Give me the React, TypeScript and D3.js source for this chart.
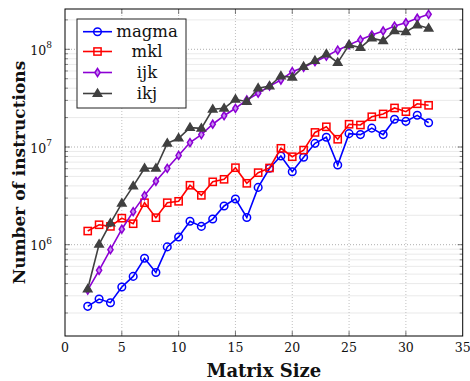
import React from "react";
import * as d3 from "d3";

const sizes = [2,3,4,5,6,7,8,9,10,11,12,13,14,15,16,17,18,19,20,21,22,23,24,25,26,27,28,29,30,31,32];
const magma = [2.34e5,2.78e5,2.55e5,3.69e5,4.74e5,7.26e5,5.2e5,9.5e5,1.2e6,1.74e6,1.54e6,1.83e6,2.49e6,2.94e6,1.9e6,3.86e6,6.05e6,8.1e6,5.58e6,7.85e6,1.09e7,1.26e7,6.55e6,1.37e7,1.34e7,1.56e7,1.34e7,1.92e7,1.83e7,2.11e7,1.77e7];
const mkl = [1.38e6,1.6e6,1.54e6,1.87e6,1.64e6,2.69e6,1.89e6,2.69e6,2.78e6,4.06e6,3.2e6,4.4e6,4.67e6,6.14e6,4.25e6,5.46e6,6.1e6,9.7e6,7.95e6,9.3e6,1.41e7,1.61e7,1.2e7,1.71e7,1.68e7,2.04e7,2.18e7,2.51e7,2.3e7,2.77e7,2.67e7];
const ijk = [3.43e5,5.47e5,8.9e5,1.44e6,2.18e6,3.18e6,4.46e6,6.05e6,8.2e6,1.11e7,1.34e7,1.71e7,2.09e7,2.49e7,3.03e7,3.55e7,4.2e7,4.85e7,5.9e7,6.55e7,7.47e7,8.5e7,9.8e7,1.11e8,1.25e8,1.4e8,1.54e8,1.73e8,1.87e8,2.08e8,2.28e8];
const ikj = [3.52e5,1.01e6,1.66e6,2.65e6,3.98e6,6.05e6,6.05e6,1.09e7,1.23e7,1.58e7,1.55e7,2.43e7,2.49e7,3.08e7,2.91e7,4.0e7,4.2e7,5.33e7,5.17e7,6.64e7,7.64e7,8.95e7,7.3e7,1.11e8,1.04e8,1.3e8,1.22e8,1.54e8,1.51e8,1.77e8,1.64e8];
const seriesNames = ["magma", "mkl", "ijk", "ikj"];
const xTicks = [0,5,10,15,20,25,30,35];
const yTickExps = [6,7,8];
const xLabel = "Matrix Size";
const yLabel = "Number of instructions";

const W = 470, H = 381;
const L = 65, R = 462.7, T = 9, B = 336;
const FONT = "'DejaVu Serif', serif";

const colors = ["#0000ff", "#ff0000", "#8c00d4", "#404040"];
const fills = ["none", "none", "#c68cf0", "#404040"];
const shapes = ["circle", "square", "diamond", "triangle"];

function Marker({ shape, x, y, color, fill }: any) {
  const sw = 1.5;
  if (shape === "circle") return <circle cx={x} cy={y} r={3.8} fill={fill} stroke={color} strokeWidth={sw} />;
  if (shape === "square") return <rect x={x - 3.6} y={y - 3.6} width={7.2} height={7.2} fill={fill} stroke={color} strokeWidth={sw} />;
  if (shape === "diamond") {
    const s = 4;
    return <path d={`M${x},${y - s}L${x + s * 0.65},${y}L${x},${y + s}L${x - s * 0.65},${y}Z`} fill={fill} stroke={color} strokeWidth={sw} />;
  }
  const s = 4.4;
  return <path d={`M${x},${y - s}L${x + s * 0.95},${y + s * 0.6}L${x - s * 0.95},${y + s * 0.6}Z`} fill={fill} stroke={color} strokeWidth={sw} strokeLinejoin="miter" />;
}

export default function App() {
  const x = d3.scaleLinear().domain([0, 35]).range([L, R]);
  const y = d3.scaleLog().domain([Math.pow(10, 5.0655), Math.pow(10, 8.4125)]).range([B, T]);
  const data = [magma, mkl, ijk, ikj];
  const line = d3.line<[number, number]>().x(d => x(d[0])).y(d => y(d[1]));

  const minor: number[] = [];
  for (let e = 5; e <= 8; e++) for (let m = 2; m <= 9; m++) {
    const v = m * Math.pow(10, e);
    const [lo, hi] = y.domain();
    if (v > lo && v < hi) minor.push(v);
  }

  const legendY = [31.7, 51.5, 72.5, 93.5];

  return (
    <svg width={W} height={H} style={{ position: "absolute", left: 0, top: 0, background: "#fff" }} fontFamily={FONT}>
      <rect width={W} height={H} fill="#fff" />
      {minor.map((v, i) => (
        <line key={"mg" + i} x1={L} x2={R} y1={y(v)} y2={y(v)} stroke="#e4e4e4" strokeWidth={0.8} />
      ))}
      {yTickExps.map(e => (
        <line key={"yg" + e} x1={L} x2={R} y1={y(Math.pow(10, e))} y2={y(Math.pow(10, e))} stroke="#9a9a9a" strokeWidth={0.8} strokeDasharray="1 2" />
      ))}
      {xTicks.slice(1, -1).map(t => (
        <line key={"xg" + t} x1={x(t)} x2={x(t)} y1={T} y2={B} stroke="#b0b0b0" strokeWidth={0.8} strokeDasharray="1 2" />
      ))}
      {xTicks.slice(1, -1).map(t => (
        <g key={"xt" + t}>
          <line x1={x(t)} x2={x(t)} y1={B} y2={B - 5} stroke="#555" strokeWidth={0.8} />
          <line x1={x(t)} x2={x(t)} y1={T} y2={T + 5} stroke="#555" strokeWidth={0.8} />
        </g>
      ))}
      {yTickExps.map(e => (
        <g key={"yt" + e}>
          <line x1={L} x2={L + 5} y1={y(Math.pow(10, e))} y2={y(Math.pow(10, e))} stroke="#555" strokeWidth={0.8} />
          <line x1={R} x2={R - 5} y1={y(Math.pow(10, e))} y2={y(Math.pow(10, e))} stroke="#555" strokeWidth={0.8} />
        </g>
      ))}
      {minor.map((v, i) => (
        <g key={"mt" + i}>
          <line x1={L} x2={L + 3} y1={y(v)} y2={y(v)} stroke="#555" strokeWidth={0.7} />
          <line x1={R} x2={R - 3} y1={y(v)} y2={y(v)} stroke="#555" strokeWidth={0.7} />
        </g>
      ))}
      {data.map((s, si) => (
        <g key={"s" + si}>
          <path d={line(sizes.map((sz, i) => [sz, s[i]]) as [number, number][]) || ""} fill="none" stroke={colors[si]} strokeWidth={1.6} />
          {sizes.map((sz, i) => (
            <Marker key={i} shape={shapes[si]} x={x(sz)} y={y(s[i])} color={colors[si]} fill={fills[si]} />
          ))}
        </g>
      ))}
      <rect x={L} y={T} width={R - L} height={B - T} fill="none" stroke="#000" strokeWidth={1} />
      {xTicks.map(t => (
        <text key={"xl" + t} x={x(t)} y={352} textAnchor="middle" fontSize={12.5} fill="#111">{t}</text>
      ))}
      {yTickExps.map(e => (
        <text key={"yl" + e} x={52} y={y(Math.pow(10, e)) + 5.5} textAnchor="end" fontSize={12.5} fill="#111">
          10<tspan dy={-6.5} fontSize={9}>{e}</tspan>
        </text>
      ))}
      <text x={(L + R) / 2} y={377} textAnchor="middle" fontSize={18} fontWeight="bold" fill="#111">{xLabel}</text>
      <text transform={`translate(25,${(T + B) / 2}) rotate(-90)`} textAnchor="middle" fontSize={17} fontWeight="bold" fill="#111">{yLabel}</text>
      <rect x={77} y={19} width={109} height={89} fill="#fff" stroke="#222" strokeWidth={1} />
      {seriesNames.map((n, i) => (
        <g key={"lg" + i}>
          <line x1={83} x2={112} y1={legendY[i]} y2={legendY[i]} stroke={colors[i]} strokeWidth={1.6} />
          <Marker shape={shapes[i]} x={97.5} y={legendY[i]} color={colors[i]} fill={fills[i]} />
          <text x={147} y={legendY[i]} dy="0.32em" textAnchor="middle" fontSize={16.5} fill="#111">{n}</text>
        </g>
      ))}
    </svg>
  );
}
